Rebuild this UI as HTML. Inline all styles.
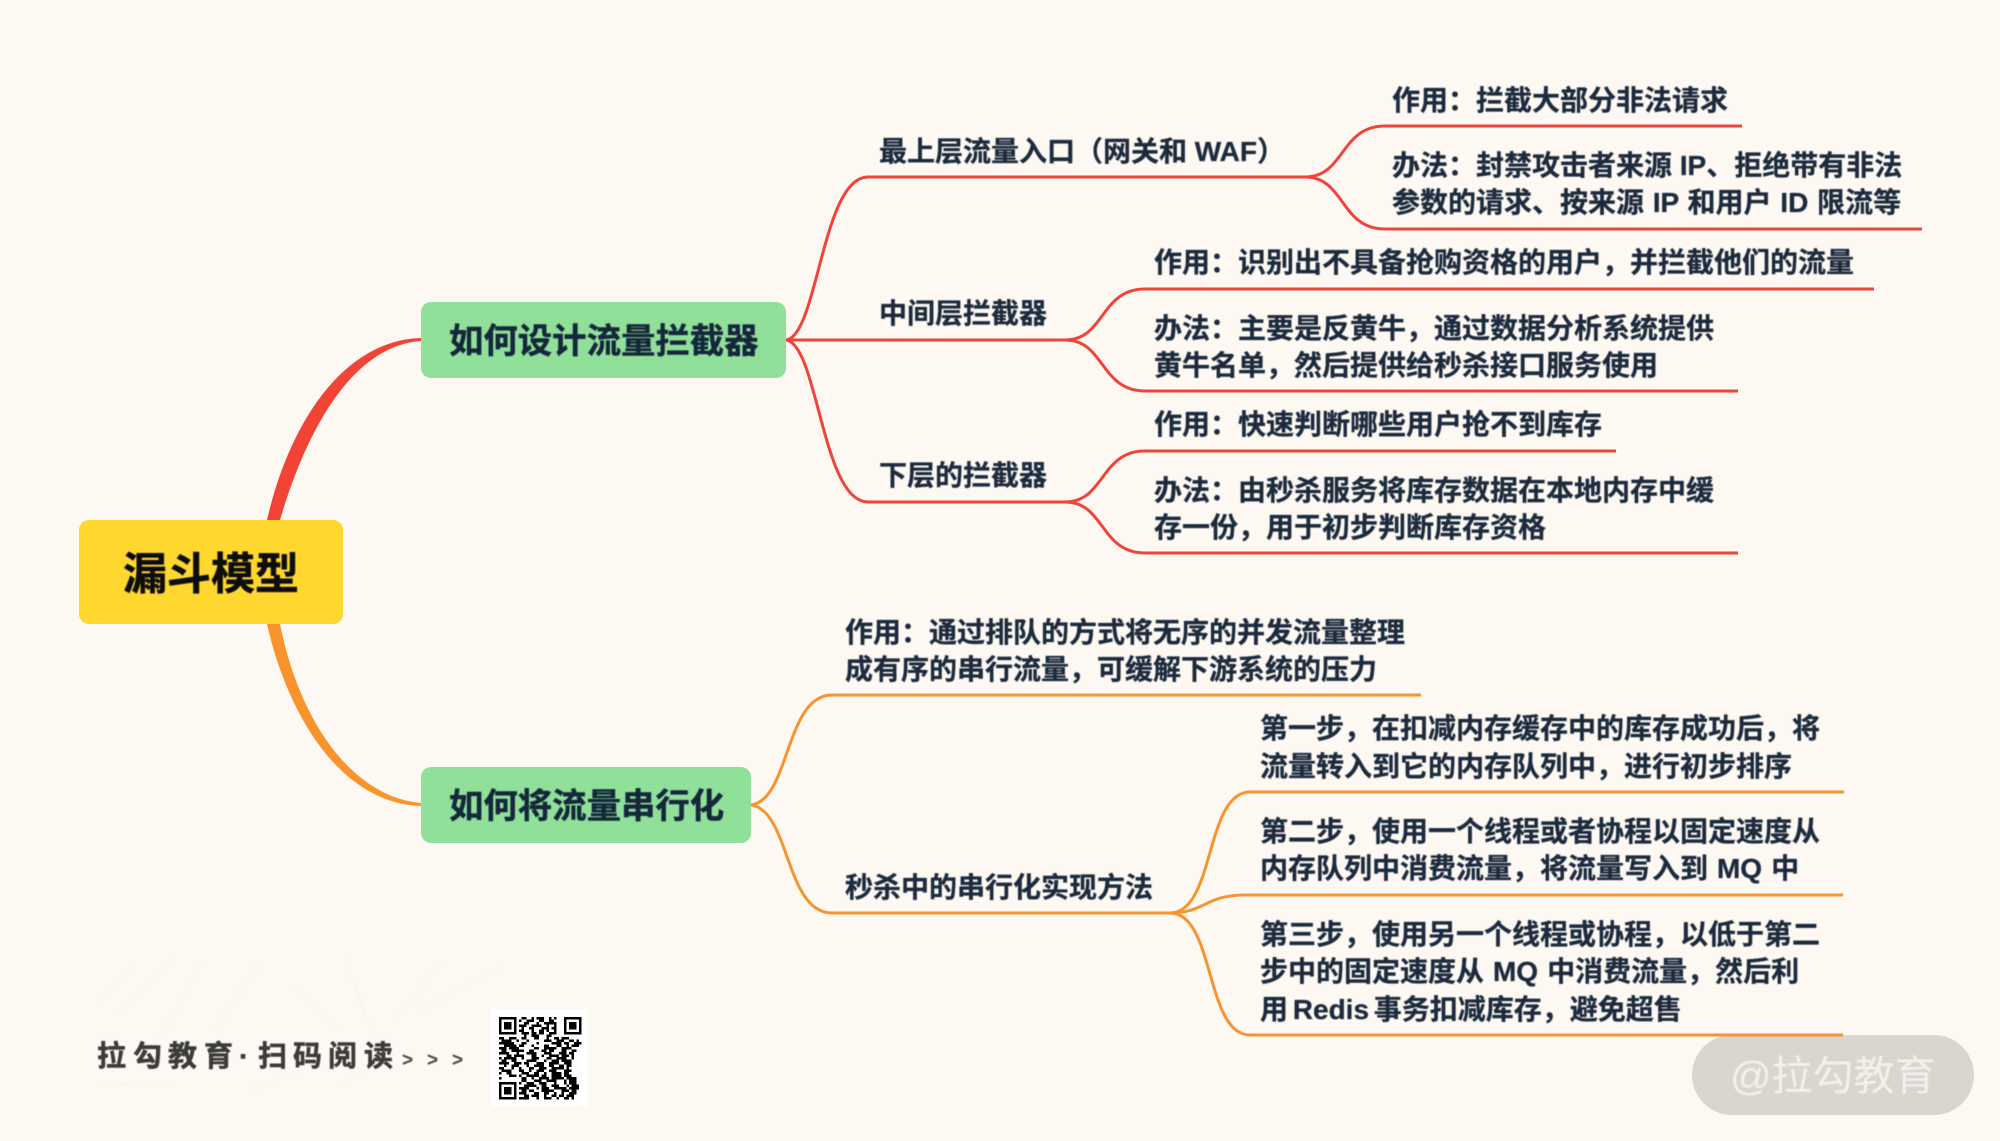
<!DOCTYPE html>
<html lang="zh">
<head>
<meta charset="utf-8">
<title>漏斗模型</title>
<style>
html,body{margin:0;padding:0;background:#fdf9f2;}
svg{display:block;}
text{font-family:"Liberation Sans","Noto Sans CJK SC",sans-serif;}
.t{font-size:28px;font-weight:700;fill:#1b2a3e;stroke:#1b2a3e;stroke-width:.3px;}
.n{font-size:34.4px;font-weight:700;fill:#12263a;stroke:#12263a;stroke-width:.4px;}
</style>
</head>
<body>
<svg xmlns="http://www.w3.org/2000/svg" width="2000" height="1141" viewBox="0 0 2000 1141">
<defs>
<filter id="b" x="-5%" y="-5%" width="110%" height="110%"><feGaussianBlur stdDeviation="0.45"/></filter>
<clipPath id="q"><rect x="0" y="0" width="33" height="33"/></clipPath>
</defs>
<rect width="2000" height="1141" fill="#fdf9f2"/>

<!-- faint background handwriting -->
<g fill="none" stroke="#fbf6ed" stroke-width="2">
<path d="M100 1000L135 965M120 1010L170 960M160 1040L200 965M215 1030L260 962M290 985L340 1030M345 960L375 1040M395 1020L440 965M420 1010L500 968M100 1085L170 1082M250 1090L300 1070M340 1085L400 1050"/>
</g>

<!-- watermark pill -->
<rect x="1692" y="1035" width="282" height="80" rx="40" fill="#d8d6cf"/>
<text x="1730" y="1090" font-size="41" fill="#f3f1eb" filter="url(#b)">@拉勾教育</text>

<!-- trunk curves -->
<path d="M267 520C290 420 345 340 421 338L421 341C350 346 305 435 280 520Z" fill="#f24436"/>
<path d="M267 624C285 705 335 803 421 806L421 803C348 796 298 715 280 624Z" fill="#f9932b"/>

<!-- red branches -->
<g fill="none" stroke="#f0443a" stroke-width="3">
<path d="M786 340C818 336 822 177 868 177H1309"/>
<path d="M786 340H1069"/>
<path d="M786 340C818 344 822 502 868 502H1069"/>
<path d="M1305 177C1345 177 1340 126 1385 126H1742"/>
<path d="M1305 177C1345 177 1340 229 1385 229H1922"/>
<path d="M1065 340C1105 340 1100 289 1145 289H1874"/>
<path d="M1065 340C1105 340 1100 391 1145 391H1738"/>
<path d="M1065 502C1105 502 1100 451 1145 451H1616"/>
<path d="M1065 502C1105 502 1100 553 1145 553H1738"/>
</g>

<!-- orange branches -->
<g fill="none" stroke="#f8942f" stroke-width="3">
<path d="M751 805C790 800 785 695 832 695H1421"/>
<path d="M751 805C790 810 785 913 832 913H1176"/>
<path d="M1170 913C1215 913 1205 792 1250 792H1844"/>
<path d="M1170 913C1205 913 1205 895 1245 895H1843"/>
<path d="M1170 913C1215 913 1205 1035 1250 1035H1843"/>
</g>

<!-- nodes -->
<rect x="79" y="520" width="264" height="104" rx="10" fill="#ffd72f"/>
<rect x="421" y="302" width="365" height="76" rx="10" fill="#90e09a"/>
<rect x="421" y="767" width="330" height="76" rx="10" fill="#90e09a"/>

<g filter="url(#b)">
<text x="123" y="589" font-size="44" font-weight="700" fill="#111" stroke="#111" stroke-width=".5">漏斗模型</text>
<text class="n" x="449" y="353">如何设计流量拦截器</text>
<text class="n" x="449" y="818">如何将流量串行化</text>

<text class="t" x="879" y="161">最上层流量入口（网关和 WAF）</text>
<text class="t" x="879" y="323">中间层拦截器</text>
<text class="t" x="879" y="485">下层的拦截器</text>

<text class="t" x="1392" y="110">作用：拦截大部分非法请求</text>
<text class="t" x="1392" y="175">办法：封禁攻击者来源 IP、拒绝带有非法</text>
<text class="t" x="1392" y="212" word-spacing="1">参数的请求、按来源 IP 和用户 ID 限流等</text>

<text class="t" x="1154" y="272">作用：识别出不具备抢购资格的用户，并拦截他们的流量</text>
<text class="t" x="1154" y="338">办法：主要是反黄牛，通过数据分析系统提供</text>
<text class="t" x="1154" y="375">黄牛名单，然后提供给秒杀接口服务使用</text>

<text class="t" x="1154" y="434">作用：快速判断哪些用户抢不到库存</text>
<text class="t" x="1154" y="500">办法：由秒杀服务将库存数据在本地内存中缓</text>
<text class="t" x="1154" y="537">存一份，用于初步判断库存资格</text>

<text class="t" x="845" y="642">作用：通过排队的方式将无序的并发流量整理</text>
<text class="t" x="845" y="679">成有序的串行流量，可缓解下游系统的压力</text>
<text class="t" x="845" y="897">秒杀中的串行化实现方法</text>

<text class="t" x="1260" y="738">第一步，在扣减内存缓存中的库存成功后，将</text>
<text class="t" x="1260" y="776">流量转入到它的内存队列中，进行初步排序</text>
<text class="t" x="1260" y="841">第二步，使用一个线程或者协程以固定速度从</text>
<text class="t" x="1260" y="878" word-spacing="1.2">内存队列中消费流量，将流量写入到 MQ 中</text>
<text class="t" x="1260" y="944">第三步，使用另一个线程或协程，以低于第二</text>
<text class="t" x="1260" y="981" word-spacing="1.2">步中的固定速度从 MQ 中消费流量，然后利</text>
<text class="t" x="1260" y="1019" word-spacing="-3">用 Redis 事务扣减库存，避免超售</text>

<text x="97 133 168 204 239 258 293 328 364" y="1066" font-size="29" font-weight="700" fill="#3b3b3b" stroke="#3b3b3b" stroke-width=".5">拉勾教育·扫码阅读</text>
<text x="402 427 452" y="1066" font-size="19" font-weight="700" fill="#4a4a4a">&gt;&gt;&gt;</text>
</g>

<!-- QR -->
<rect x="491" y="1009" width="97" height="97" fill="#fff"/>
<g transform="translate(499 1017) scale(2.5)" clip-path="url(#q)">
<path fill="none" stroke="#000" stroke-width="1" d="M.5 .5h6v6h-6zM26.500 .5h6v6h-6zM.5 26.500h6v6h-6z"/>
<path fill="#000" d="M2 2h3v3h-3zM28 2h3v3h-3zM2 28h3v3h-3z"/>
<path fill="none" stroke="#000" stroke-width="1" d="
M9 .5h2m2 0h1m1 0h3m2 0h1m1 0h1
M8 1.500h1m2 0h3m2 0h2m2 0h2
M10 2.500h2m3 0h1m2 0h5
M8 3.500h3m2 0h4m2 0h1m2 0h1
M9 4.500h1m2 0h2m3 0h3m1 0h2
M8 5.500h2m3 0h1m2 0h2m1 0h1m2 0h1
M9 6.500h3m1 0h2m1 0h2m2 0h3
M10 7.500h1m2 0h3m3 0h2
M0 8.500h2m2 0h3m2 0h2m3 0h2m3 0h1m2 0h2m1 0h3
M1 9.500h4m2 0h1m3 0h1m6 0h3m2 0h3m2 0h2m1 0h1
M0 10.500h6m3 0h2m4 0h1m5 0h4m1 0h2m2 0h3
M2 11.500h5m1 0h2m3 0h1m4 0h2m3 0h2m2 0h1m1 0h3
M0 12.500h3m1 0h4m6 0h2m2 0h5m2 0h4
M1 13.500h2m2 0h5m2 0h2m3 0h2m1 0h2m3 0h2m2 0h2
M0 14.500h4m3 0h1m3 0h4m3 0h3m3 0h3m1 0h2
M3 15.500h2m1 0h4m3 0h2m2 0h1m2 0h4m1 0h3m1 0h1
M0 16.500h1m1 0h5m2 0h1m3 0h3m3 0h2m2 0h4m2 0h1
M1 17.500h2m2 0h2m4 0h4m3 0h1m2 0h3m1 0h4
M0 18.500h4m2 0h3m1 0h2m3 0h3m2 0h4m2 0h3
M2 19.500h1m2 0h3m3 0h1m2 0h4m2 0h2m2 0h2m1 0h2
M0 20.500h2m3 0h1m2 0h1m3 0h2m2 0h3m2 0h5m1 0h1
M1 21.500h4m3 0h2m2 0h1m2 0h3m2 0h3m3 0h3
M0 22.500h1m2 0h2m4 0h3m2 0h2m2 0h1m2 0h4m1 0h2
M4 23.500h3m1 0h1m2 0h5m1 0h2m2 0h4m1 0h3
M0 24.500h1m8 0h2m2 0h1m2 0h4m1 0h5m1 0h4
M9 25.500h2m3 0h3m2 0h4m3 0h1m1 0h3
M8 26.500h1m2 0h3m2 0h3m3 0h1m3 0h1m1 0h3
M10 27.500h5m2 0h2m2 0h3m3 0h1m1 0h3
M8 28.500h4m3 0h1m1 0h3m2 0h5m1 0h4
M9 29.500h2m1 0h2m3 0h5m3 0h3m1 0h2
M8 30.500h3m3 0h2m2 0h2m2 0h1m2 0h1m2 0h3
M10 31.500h2m1 0h3m2 0h1m2 0h2m1 0h2m1 0h3
M8 32.500h4m3 0h1m2 0h3m2 0h1m2 0h2m1 0h1"/>
</g>
</svg>
</body>
</html>
